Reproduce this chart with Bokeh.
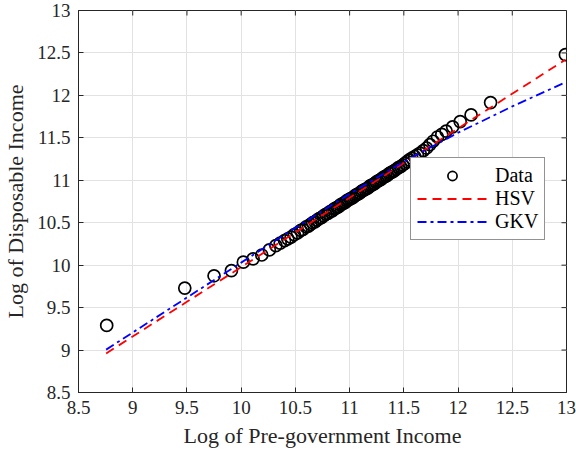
import math
from bokeh.plotting import figure
from bokeh.models import (Range1d, FixedTicker, Legend, LegendItem,
                          CustomJSTickFormatter)
from bokeh.embed import file_html
from bokeh.resources import INLINE

# ---- data ----
data_x = [8.76, 9.48, 9.75, 9.91, 10.02, 10.11, 10.19, 10.26, 10.32,
          10.36, 10.40, 10.43, 10.46, 10.49, 10.52, 10.55, 10.57, 10.60, 10.62,
          10.64, 10.66, 10.68, 10.70, 10.72, 10.74, 10.76, 10.78, 10.80, 10.82, 10.84,
          10.855, 10.87, 10.885, 10.90, 10.915, 10.93, 10.945, 10.96, 10.975, 10.99,
          11.005, 11.02, 11.035, 11.05, 11.065, 11.08, 11.095, 11.11, 11.125, 11.14,
          11.155, 11.17, 11.185, 11.20, 11.215, 11.23, 11.245, 11.26, 11.275, 11.29,
          11.305, 11.32, 11.335, 11.35, 11.365, 11.38, 11.395, 11.41,
          11.43, 11.45, 11.47, 11.49, 11.51, 11.53, 11.55,
          11.575, 11.60, 11.625, 11.65,
          11.68, 11.71, 11.74, 11.77,
          11.81, 11.85, 11.89, 11.95, 12.02, 12.12, 12.30, 12.99]
data_y = [9.29, 9.73, 9.875, 9.935, 10.035, 10.075, 10.12, 10.18, 10.23,
          10.26, 10.29, 10.31, 10.33, 10.36, 10.38, 10.41, 10.42, 10.45, 10.46,
          10.48, 10.50, 10.51, 10.53, 10.55, 10.56, 10.58, 10.60, 10.61, 10.63, 10.64,
          10.66, 10.67, 10.68, 10.69, 10.71, 10.72, 10.73, 10.74, 10.76, 10.77,
          10.78, 10.79, 10.80, 10.82, 10.83, 10.84, 10.85, 10.87, 10.88, 10.89,
          10.90, 10.91, 10.93, 10.94, 10.95, 10.96, 10.98, 10.99, 11.00, 11.01,
          11.03, 11.04, 11.05, 11.06, 11.08, 11.09, 11.10, 11.11,
          11.13, 11.15, 11.16, 11.18, 11.20, 11.22, 11.24,
          11.26, 11.28, 11.30, 11.32,
          11.35, 11.38, 11.42, 11.46,
          11.51, 11.54, 11.58, 11.63, 11.69, 11.77, 11.915, 12.48]

hsv_x = [8.755, 12.99]
hsv_y = [8.96, 12.42]

gkv_x = [8.755, 9.356, 10.0, 10.5, 11.0, 11.5, 12.0, 12.5, 12.965]
gkv_y = [9.005, 9.50, 10.03, 10.44, 10.84, 11.22, 11.56, 11.87, 12.14]

x_ticks = [8.5, 9, 9.5, 10, 10.5, 11, 11.5, 12, 12.5, 13]
y_ticks = [8.5, 9, 9.5, 10, 10.5, 11, 11.5, 12, 12.5, 13]

x_label = "Log of Pre-government Income"
y_label = "Log of Disposable Income"
series_names = ["Data", "HSV", "GKV"]

FONT = "Liberation Serif"
AX = "#262626"

x0, x1 = x_ticks[0], x_ticks[-1]
y0, y1 = y_ticks[0], y_ticks[-1]

p = figure(width=576, height=453, output_backend="svg", toolbar_location=None,
           x_range=Range1d(x0, x1), y_range=Range1d(y0, y1),
           min_border_left=77, min_border_right=10, min_border_top=10,
           min_border_bottom=61, background_fill_color="white",
           border_fill_color="white")
p.outline_line_color = AX
p.outline_line_width = 1

fmt = CustomJSTickFormatter(code="return String(Math.round(tick*10)/10);")

for ax in (p.xaxis[0], p.yaxis[0]):
    ax.major_tick_in = 5
    ax.major_tick_out = 0
    ax.minor_tick_in = 0
    ax.minor_tick_out = 0
    ax.axis_line_color = AX
    ax.major_tick_line_color = AX
    ax.major_label_text_font = FONT
    ax.major_label_text_font_size = "19px"
    ax.major_label_text_color = AX
    ax.axis_label_text_font = FONT
    ax.axis_label_text_font_size = "22px"
    ax.axis_label_text_font_style = "normal"
    ax.axis_label_text_color = AX
    ax.formatter = fmt

p.xaxis[0].ticker = FixedTicker(ticks=x_ticks)
p.yaxis[0].ticker = FixedTicker(ticks=y_ticks)
p.xaxis[0].axis_label = x_label
p.yaxis[0].axis_label = y_label
p.xaxis[0].major_label_standoff = 8
p.xaxis[0].axis_label_standoff = 6
p.yaxis[0].major_label_standoff = 8
p.yaxis[0].axis_label_standoff = 6

# box ticks on top and right edges (inward)
p.ray(x=x_ticks, y=[y1] * len(x_ticks), length=5, length_units="screen",
      angle=-math.pi / 2, line_color=AX, line_width=1)
p.ray(x=[x1] * len(y_ticks), y=y_ticks, length=5, length_units="screen",
      angle=math.pi, line_color=AX, line_width=1)

p.xgrid.ticker = FixedTicker(ticks=x_ticks)
p.ygrid.ticker = FixedTicker(ticks=y_ticks)
p.xgrid.grid_line_color = "#e2e2e2"
p.ygrid.grid_line_color = "#e2e2e2"
p.xgrid.grid_line_width = 1
p.ygrid.grid_line_width = 1

r_data = p.scatter(data_x, data_y, marker="circle", size=12, fill_color=None,
                   line_color="black", line_width=1.7)
r_hsv = p.line(hsv_x, hsv_y, line_color="red", line_width=1.8, line_dash="9 6")
r_gkv = p.line(gkv_x, gkv_y, line_color="blue", line_width=1.8, line_dash="9 4 3 4")

legend = Legend(items=[LegendItem(label=series_names[0], renderers=[r_data]),
                       LegendItem(label=series_names[1], renderers=[r_hsv]),
                       LegendItem(label=series_names[2], renderers=[r_gkv])],
                location=(332, 152), glyph_width=70, glyph_height=23, spacing=0,
                padding=6, label_standoff=8, margin=0,
                label_text_font=FONT, label_text_font_size="20px",
                label_text_color="black",
                border_line_color=AX, border_line_width=1,
                background_fill_color="white", background_fill_alpha=1)
p.add_layout(legend)

open("out.html", "w").write(file_html(p, INLINE))
